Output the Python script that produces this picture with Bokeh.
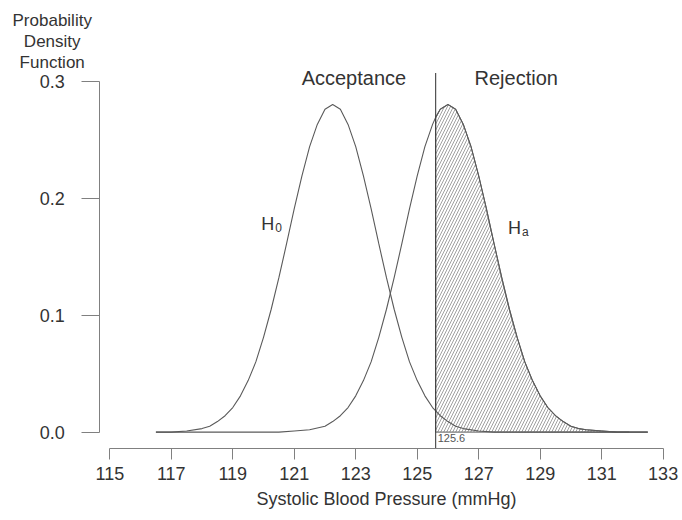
from bokeh.plotting import figure
from bokeh.models import FixedTicker, Label, Range1d, PrintfTickFormatter
from bokeh.core.properties import value
from bokeh.embed import file_html
from bokeh.resources import INLINE

# ---- data ----
h0_x = [116.5, 117.0, 117.5, 118.0, 118.25, 118.5, 118.75, 119.0, 119.25, 119.5, 119.75,
        120.0, 120.25, 120.5, 120.75, 121.0, 121.25, 121.5, 121.75, 122.0, 122.25, 122.5,
        122.75, 123.0, 123.25, 123.5, 123.75, 124.0, 124.25, 124.5, 124.75, 125.0, 125.25,
        125.5, 125.75, 126.0, 126.25, 126.5, 127.0, 127.5, 128.5, 130.0, 131.9]
h0_y = [0.000, 0.000, 0.001, 0.003, 0.005, 0.009, 0.014, 0.021, 0.031, 0.044, 0.060,
        0.081, 0.105, 0.132, 0.161, 0.191, 0.219, 0.244, 0.263, 0.276, 0.280, 0.276,
        0.263, 0.244, 0.219, 0.191, 0.161, 0.132, 0.105, 0.081, 0.060, 0.044, 0.031,
        0.021, 0.014, 0.009, 0.005, 0.003, 0.001, 0.000, 0.000, 0.000, 0.000]

ha_x = [116.5, 119.0, 120.5, 121.0, 121.5, 122.0, 122.25, 122.5, 122.75, 123.0, 123.25,
        123.5, 123.75, 124.0, 124.25, 124.5, 124.75, 125.0, 125.25, 125.5, 125.6, 125.75,
        126.0, 126.25, 126.5, 126.75, 127.0, 127.25, 127.5, 127.75, 128.0, 128.25, 128.5,
        128.75, 129.0, 129.25, 129.5, 129.75, 130.0, 130.25, 130.5, 131.0, 131.5, 132.5]
ha_y = [0.000, 0.000, 0.000, 0.001, 0.002, 0.005, 0.009, 0.014, 0.021, 0.031, 0.044,
        0.060, 0.081, 0.105, 0.132, 0.161, 0.191, 0.219, 0.244, 0.263, 0.269, 0.276,
        0.280, 0.276, 0.263, 0.244, 0.219, 0.191, 0.161, 0.132, 0.105, 0.081, 0.060,
        0.044, 0.031, 0.021, 0.014, 0.009, 0.005, 0.003, 0.002, 0.001, 0.000, 0.000]

critical_value = 125.6
x_ticks = [115, 117, 119, 121, 123, 125, 127, 129, 131, 133]
y_ticks = [0.0, 0.1, 0.2, 0.3]
region_labels = ["Acceptance", "Rejection"]
region_label_x = [122.94, 128.22]
region_label_y = [0.3025, 0.3025]
hyp_main = ["H", "H"]
hyp_sub = ["0", "a"]
hyp_x = [119.93, 127.95]
hyp_y = [0.178, 0.1745]
y_title_lines = ["Probability", "Density", "Function"]
y_title_line_y = [0.3515, 0.3338, 0.3162]

FONT = "Liberation Sans"
LINE = "#5a5a5a"
AXIS = "#808080"
TEXT = "#333333"

# detached axes (R style): drawn at fixed locations inside a full-canvas frame
Y_AXIS_AT = 114.675
X_AXIS_AT = -0.0138

p = figure(width=682, height=520, output_backend="svg", toolbar_location=None,
           x_range=Range1d(111.444, 133.630), y_range=Range1d(-0.07556, 0.36889),
           min_border=0, min_border_left=0, min_border_right=0,
           min_border_top=0, min_border_bottom=0)
p.outline_line_color = None
p.grid.visible = False
p.background_fill_color = "white"
p.border_fill_color = "white"

# x axis
xa = p.xaxis[0]
xa.fixed_location = X_AXIS_AT
xa.ticker = FixedTicker(ticks=x_ticks)
xa.bounds = (x_ticks[0], x_ticks[-1])
xa.axis_line_color = AXIS
xa.major_tick_line_color = AXIS
xa.major_tick_out = 11
xa.major_tick_in = 0
xa.minor_tick_out = 0
xa.minor_tick_in = 0
xa.major_label_text_font = FONT
xa.major_label_text_font_size = "18px"
xa.major_label_text_color = TEXT
xa.major_label_standoff = 8
xa.axis_label = "Systolic Blood Pressure (mmHg)"
xa.axis_label_text_font = FONT
xa.axis_label_text_font_size = "18px"
xa.axis_label_text_font_style = "normal"
xa.axis_label_text_color = TEXT
xa.axis_label_standoff = 5

# y axis
ya = p.yaxis[0]
ya.fixed_location = Y_AXIS_AT
ya.ticker = FixedTicker(ticks=y_ticks)
ya.formatter = PrintfTickFormatter(format="%.1f")
ya.bounds = (y_ticks[0], y_ticks[-1])
ya.axis_line_color = AXIS
ya.major_tick_line_color = AXIS
ya.major_tick_out = 18
ya.major_tick_in = 0
ya.minor_tick_out = 0
ya.minor_tick_in = 0
ya.major_label_text_font = FONT
ya.major_label_text_font_size = "18px"
ya.major_label_text_color = TEXT
ya.major_label_standoff = 17

# rejection region (hatched)
hx = [critical_value] + [x for x in ha_x if x >= critical_value]
hy = [0.0] + [y for x, y in zip(ha_x, ha_y) if x >= critical_value]
p.patch(hx, hy, fill_color=None, line_color=LINE, line_width=1,
        hatch_pattern="/", hatch_color="#777777", hatch_scale=6, hatch_weight=0.7)

# density curves
p.line(h0_x, h0_y, line_color=LINE, line_width=1.1)
p.line(ha_x, ha_y, line_color=LINE, line_width=1.1)

# critical value line
p.segment(x0=[critical_value], y0=[X_AXIS_AT], x1=[critical_value], y1=[0.307],
          line_color="#404040", line_width=1.1)
p.text(x=[critical_value], y=[0], text=[f"{critical_value}"], x_offset=2, y_offset=2,
       text_font=value(FONT), text_font_size="11px", text_color="#555555",
       text_baseline="top", text_align="left")

# region labels
p.text(x=region_label_x, y=region_label_y, text=region_labels,
       text_font=value(FONT), text_font_size="20px", text_color=TEXT,
       text_align="center", text_baseline="alphabetic")

# hypothesis labels
p.text(x=hyp_x, y=hyp_y, text=hyp_main, text_font=value(FONT), text_font_size="18px",
       text_color=TEXT, text_align="left", text_baseline="alphabetic")
p.text(x=hyp_x, y=hyp_y, text=hyp_sub, x_offset=14, y_offset=4, text_font=value(FONT),
       text_font_size="12px", text_color=TEXT, text_align="left", text_baseline="alphabetic")

# y axis title at top-left, one line per Label
for line_text, line_y in zip(y_title_lines, y_title_line_y):
    p.add_layout(Label(x=113.126, y=line_y, text=line_text,
                       text_font=FONT, text_font_size="17px", text_color=TEXT,
                       text_align="center", text_baseline="alphabetic"))

open("out.html", "w").write(file_html(p, INLINE))
